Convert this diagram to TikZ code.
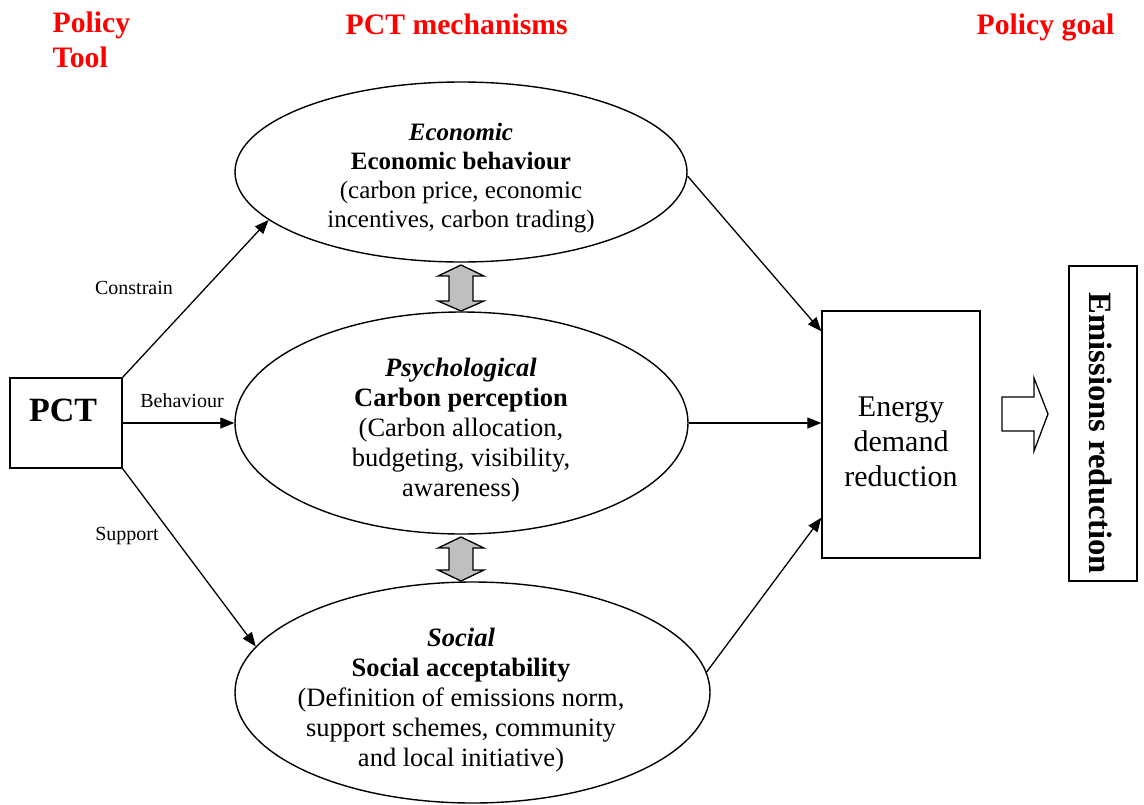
\documentclass[tikz,border=0pt]{standalone}
\usepackage{fontspec}
\setmainfont{Liberation Serif}
\usetikzlibrary{arrows.meta,shapes.geometric,calc}
\begin{document}
\begin{tikzpicture}[x=1pt,y=-1pt,line width=1.4pt,
  conn/.style={-{Triangle[length=14pt,width=11pt]},line width=1.3pt},
  mech/.style={draw,ellipse,inner sep=0pt,line width=1.4pt},
  mechtext/.style={align=center,inner sep=0pt,font=\fontsize{26.5}{30}\selectfont},
  ttl/.style={text=red,inner sep=0pt,font=\fontsize{29.7}{35}\bfseries\selectfont},
  lab/.style={inner sep=0pt,font=\fontsize{20}{24}\selectfont},
  boxed/.style={draw,inner sep=0pt,line width=1.4pt},
  dbl/.style={draw,fill=black!25,line width=1.3pt,line join=miter}
]
\useasboundingbox (0,0) rectangle (1144,804);

% titles
\node[ttl,align=left,anchor=west] (t1) at (52,40) {Policy\\Tool};
\node[ttl,anchor=base west] (t2) at (345,34) {PCT mechanisms};
\node[ttl,anchor=base west] (t3) at (976,34) {Policy goal};

% PCT box
\node[boxed,minimum width=112pt,minimum height=90pt] (pct) at (66,423) {};
\node[inner sep=0pt,font=\fontsize{34}{40}\bfseries\selectfont] (pcttext) at (63,410) {PCT};

% ellipses
\node[mech,minimum width=452pt,minimum height=180pt] (econ) at (461,172) {};
\node[mechtext,font=\fontsize{25}{29}\selectfont] (econtext) at (461,178) {\textbf{\textit{Economic}}\\\textbf{Economic behaviour}\\(carbon price, economic\\incentives, carbon trading)};

\node[mech,minimum width=453pt,minimum height=222pt] (psych) at (461.5,423) {};
\node[mechtext] (psychtext) at (461,430) {\textbf{\textit{Psychological}}\\\textbf{Carbon perception}\\(Carbon allocation,\\budgeting, visibility,\\awareness)};

\node[mech,minimum width=475pt,minimum height=221pt] (social) at (472.5,692.5) {};
\node[mechtext] (socialtext) at (461,700) {\textbf{\textit{Social}}\\\textbf{Social acceptability}\\(Definition of emissions norm,\\support schemes, community\\and local initiative)};

% energy box
\node[boxed,minimum width=158pt,minimum height=247pt] (energy) at (901,434.5) {};
\node[align=center,inner sep=0pt,font=\fontsize{30}{35}\selectfont] (energytext) at (901,442) {Energy\\demand\\reduction};

% emissions box
\node[boxed,minimum width=68pt,minimum height=315pt] (emis) at (1103,423.5) {};
\node[rotate=-90,inner sep=0pt,font=\fontsize{32.6}{38}\bfseries\selectfont] (emistext) at (1101,433.5) {Emissions reduction};

% block arrow
\draw[line width=1.3pt,line join=miter] (1002,397) -- (1034,397) -- (1034,378) -- (1048,414) -- (1034,451) -- (1034,431) -- (1002,431) -- cycle;

% double arrows
\draw[dbl] (461,265) -- (484,276) -- (473,276) -- (473,301) -- (484,301) -- (461,311) -- (438,301) -- (449,301) -- (449,276) -- (438,276) -- cycle;
\draw[dbl] (461,537) -- (484,548) -- (473,548) -- (473,570) -- (484,570) -- (461,581) -- (438,570) -- (449,570) -- (449,548) -- (438,548) -- cycle;

% connectors
\draw[conn] (pct.north east) -- (econ.194);
\draw[conn] (pct.east) -- (psych.west);
\draw[conn] (pct.south east) -- (social.168);
\draw[conn] (econ.-1) -- ($(energy.north west)+(0,21)$);
\draw[conn] (psych.east) -- (psych.east -| energy.west);
\draw[conn] (social.5) -- ($(energy.south west)+(0,-41)$);

% labels
\node[lab] (lc) at (134,288) {Constrain};
\node[lab] (lb) at (182,401) {Behaviour};
\node[lab] (ls) at (127,536) {Support};
\end{tikzpicture}
\end{document}
